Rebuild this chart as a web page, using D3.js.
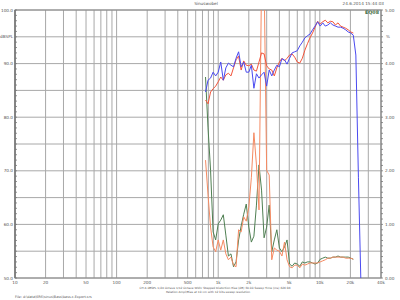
<!DOCTYPE html>
<html>
<head>
<meta charset="utf-8">
<script src="https://cdn.jsdelivr.net/npm/d3@7"></script>
<style>
 body { margin:0; background:#fff; }
 text { font-family: "DejaVu Sans", sans-serif; }
</style>
</head>
<body>
<script>
// frequencies (Hz), 1/12 octave steps
var freqs = [750, 794, 841, 891, 944, 1000, 1059, 1122, 1189, 1260, 1335, 1414, 1498, 1587, 1682, 1782,
  1888, 2000, 2119, 2245, 2378, 2520, 2670, 2828, 2997, 3175, 3364, 3564, 3775, 4000, 4238, 4490,
  4757, 5040, 5339, 5657, 5993, 6350, 6727, 7127, 7551, 8000, 8476, 8980, 9514, 10079, 10679, 11314,
  11986, 12699, 13454, 14254, 15102, 16000, 16951, 17959, 19027, 20159, 21357, 22627, 23973, 25398];

// response dBSPL
var respBlue = [84.7, 86.9, 87.3, 88.4, 87.7, 88.4, 90.3, 86.9, 89.2, 90.1, 89.7, 89.4, 91.0, 92.2, 89.4, 90.3,
  88.4, 88.4, 89.7, 85.4, 88.1, 87.3, 87.9, 88.4, 85.8, 88.8, 87.7, 88.8, 89.7, 89.4, 90.9, 90.7,
  89.9, 91.0, 92.0, 92.2, 92.4, 93.3, 94.0, 94.8, 95.2, 95.5, 96.3, 97.0, 97.8, 97.0, 97.6, 97.0,
  97.2, 97.6, 97.2, 97.0, 96.8, 96.8, 96.6, 96.3, 95.9, 95.7, 95.3, 91.6, 68.8, 48.7];
var respRed = [83.2, 82.5, 84.7, 85.3, 85.8, 86.6, 87.5, 86.9, 87.9, 88.2, 87.7, 89.2, 90.7, 91.4, 88.8, 90.5,
  89.7, 89.6, 89.9, 88.8, 88.6, 90.3, 92.0, 91.8, 89.6, 89.0, 88.8, 87.7, 89.2, 90.3, 91.0, 90.5,
  91.0, 91.6, 91.8, 91.2, 90.3, 90.1, 91.0, 92.5, 93.7, 94.8, 95.7, 96.8, 97.9, 97.4, 97.8, 98.1,
  97.6, 97.9, 97.8, 97.2, 97.6, 97.0, 96.8, 96.6, 96.3, 95.9, 95.7, null, null, null];

// distortion %
var distGreen = [3.75, 2.80, 2.01, 0.86, 0.71, 1.01, 1.08, 1.18, 0.80, 0.41, 0.45, 0.21, 0.30, 0.71, 0.97, 1.19,
  1.38, 0.95, 0.67, 0.78, 1.36, 2.11, 1.64, 0.75, 0.95, 1.36, 0.49, 0.71, 0.90, 0.56, 0.49, 0.58,
  0.71, 0.26, 0.22, 0.28, 0.26, 0.22, 0.30, 0.28, 0.30, 0.30, 0.28, 0.26, 0.28, 0.35, 0.37, 0.39,
  0.37, 0.37, 0.39, 0.39, 0.41, 0.39, 0.39, 0.39, 0.39, 0.37, 0.35, null, null, null];
var distOrange = [2.20, 1.55, 0.95, 0.58, 0.49, 0.71, 0.52, 0.71, 0.45, 0.34, 0.39, 0.24, 0.21, 0.90, 0.86, 1.14,
  1.06, 1.32, 1.87, 2.71, 2.11, 1.27, 5.6, 5.6, 2.01, 1.92, 0.34, 0.56, 0.52, 0.50, 0.41, 0.67,
  0.34, 0.21, 0.19, 0.24, 0.24, 0.19, 0.26, 0.24, 0.26, 0.28, 0.28, 0.28, 0.28, 0.30, 0.32, 0.34,
  0.37, 0.37, 0.39, 0.39, 0.39, 0.39, 0.39, 0.37, 0.37, 0.37, 0.35, null, null, null];

var freqTicks = [10, 20, 50, 100, 200, 500, 1000, 2000, 5000, 10000, 20000, 40000];
var freqLabels = ["10", "20", "50", "100", "200", "500", "1k", "2k", "5k", "10k", "20k", "40k"];
var dbTicks = [100, 90, 80, 70, 60, 50];
var pctTicks = [5, 4, 3, 2, 1, 0];

var L = 15, R = 381, T = 10, B = 278;

var svg = d3.select("body").append("svg")
  .attr("width", 400)
  .attr("height", 300);

var x = d3.scaleLog().domain([10, 40000]).range([L, R]);
var yDb = d3.scaleLinear().domain([50, 100]).range([B, T]);
var yPct = d3.scaleLinear().domain([0, 5]).range([B, T]);

// grid
var gridF = [];
[10, 100, 1000, 10000].forEach(function(d) {
  for (var k = 1; k < 10; k++) if (d * k <= 40000) gridF.push(d * k);
});
gridF.push(40000);

svg.selectAll("line.vg").data(gridF).enter().append("line")
  .attr("x1", function(d) { return x(d); })
  .attr("x2", function(d) { return x(d); })
  .attr("y1", T).attr("y2", B)
  .style("stroke", "#a8a8a8")
  .style("stroke-width", 1);

svg.selectAll("line.hg").data(d3.range(50, 101, 5)).enter().append("line")
  .attr("x1", L).attr("x2", R)
  .attr("y1", function(d) { return yDb(d); })
  .attr("y2", function(d) { return yDb(d); })
  .style("stroke", "#a8a8a8")
  .style("stroke-width", 1);

// frame
svg.append("rect")
  .attr("x", L).attr("y", T)
  .attr("width", R - L).attr("height", B - T)
  .style("fill", "none")
  .style("stroke", "#888")
  .style("stroke-width", 1);
svg.append("line")
  .attr("x1", L).attr("x2", L).attr("y1", T).attr("y2", B)
  .style("stroke", "#777").style("stroke-width", 1.5);

// small ticks
svg.selectAll("line.lt").data(d3.range(50, 101, 1)).enter().append("line")
  .attr("x1", L).attr("x2", L + 2)
  .attr("y1", function(d) { return yDb(d); })
  .attr("y2", function(d) { return yDb(d); })
  .style("stroke", "#777").style("stroke-width", 0.8);
svg.selectAll("line.rt").data(d3.range(0, 51, 1)).enter().append("line")
  .attr("x1", R).attr("x2", R + 2)
  .attr("y1", function(d) { return yPct(d / 10); })
  .attr("y2", function(d) { return yPct(d / 10); })
  .style("stroke", "#777").style("stroke-width", 0.8);

// axis labels
var fs = 4.2;
svg.selectAll("text.db").data(dbTicks).enter().append("text")
  .attr("x", L - 2)
  .attr("y", function(d) { return yDb(d) + 1.5; })
  .attr("text-anchor", "end")
  .style("font-size", fs).style("fill", "#555")
  .text(function(d) { return d.toFixed(1); });
svg.append("text").attr("x", L - 2).attr("y", yDb(95) + 1.5)
  .attr("text-anchor", "end").style("font-size", fs).style("fill", "#555")
  .text("dBSPL");

svg.selectAll("text.pc").data(pctTicks).enter().append("text")
  .attr("x", R + 4)
  .attr("y", function(d) { return yPct(d) + 1.5; })
  .style("font-size", fs).style("fill", "#555")
  .text(function(d) { return d.toFixed(2); });
svg.append("text").attr("x", R + 5).attr("y", yPct(4.5) + 1.5)
  .style("font-size", fs).style("fill", "#555").text("%");

svg.selectAll("text.fq").data(freqTicks).enter().append("text")
  .attr("x", function(d) { return x(d); })
  .attr("y", B + 6)
  .attr("text-anchor", "middle")
  .style("font-size", fs).style("fill", "#555")
  .text(function(d, i) { return freqLabels[i]; });

// titles
svg.append("text").attr("x", 206).attr("y", 5).attr("text-anchor", "middle")
  .style("font-size", fs).style("fill", "#555").text("Sinuswobel");
svg.append("text").attr("x", 384).attr("y", 5).attr("text-anchor", "end")
  .style("font-size", fs).style("fill", "#555").text("24.6.2014 15:44:03");
svg.append("text").attr("x", 379).attr("y", 14).attr("text-anchor", "end")
  .style("font-size", 4.8).style("font-weight", "bold").style("fill", "#3d6b3d").text("EQ08");

svg.append("text").attr("x", 215).attr("y", 289).attr("text-anchor", "middle")
  .style("font-size", 2.9).style("fill", "#555")
  .text("CH A   dBSPL   1/24 Octave   1/12 Octave   Wbhr   Stepped   Distortion Rise (dB) 30.00   Sweep Time (ms) 626.96");
svg.append("text").attr("x", 208).attr("y", 292.5).attr("text-anchor", "middle")
  .style("font-size", 2.9).style("fill", "#555")
  .text("Relation Ampl/Bias at 10 cm with 12 bits sweep resolution");
svg.append("text").attr("x", 15).attr("y", 298)
  .style("font-size", 3.4).style("fill", "#555")
  .text("File: d:\\data\\SRS\\sinus\\Bass\\bass.c.Export.srs");

// curves
svg.append("clipPath").attr("id", "clip").append("rect")
  .attr("x", L).attr("y", T).attr("width", R - L).attr("height", B - T);

function drawLine(vals, yScale, col, w) {
  var line = d3.line()
    .defined(function(d) { return d != null; })
    .x(function(d, i) { return x(freqs[i]); })
    .y(function(d) { return yScale(d); });
  svg.append("path")
    .datum(vals)
    .attr("d", line)
    .attr("clip-path", "url(#clip)")
    .style("fill", "none")
    .style("stroke", col)
    .style("stroke-width", w);
}

drawLine(distGreen, yPct, "#4f7f52", 1);
drawLine(distOrange, yPct, "#f58a62", 1);
drawLine(respRed, yDb, "#f2553c", 1);
drawLine(respBlue, yDb, "#4a4af0", 1);
</script>
</body>
</html>
